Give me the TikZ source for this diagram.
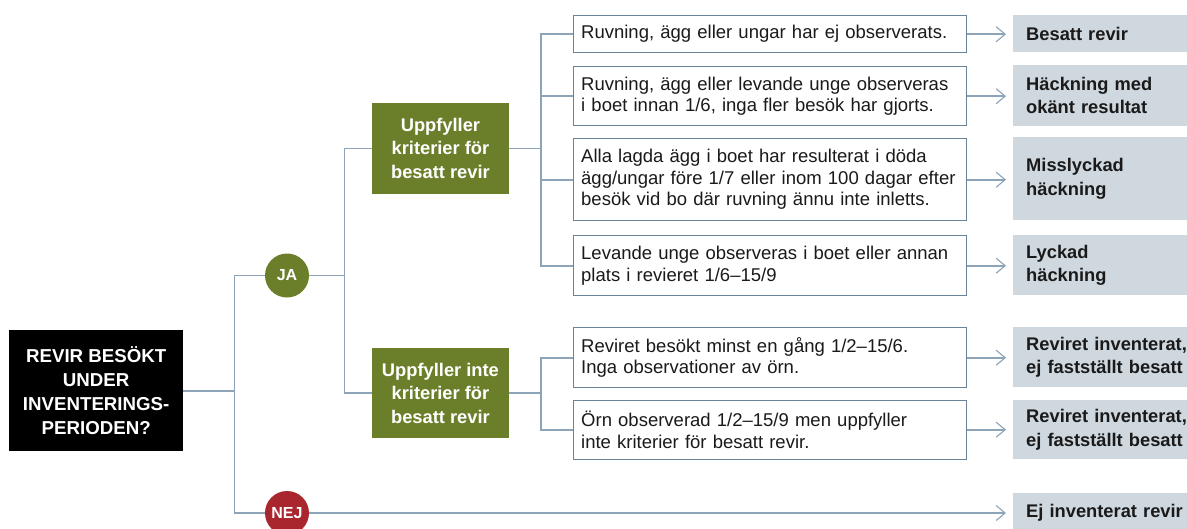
\documentclass[tikz,border=0pt]{standalone}
\usepackage{fontspec}
\setmainfont{Liberation Sans}
\usetikzlibrary{arrows.meta}
\definecolor{linec}{HTML}{8CA3B8}
\definecolor{borderc}{HTML}{6A8399}
\definecolor{olive}{HTML}{6B7F2B}
\definecolor{nejred}{HTML}{A9262E}
\definecolor{grayc}{HTML}{CFD8DF}
\definecolor{txt}{HTML}{1A1A1A}
\tikzset{
  conn/.style={draw=linec, line width=1.6pt},
  arr/.style={conn, -{Straight Barb[length=9pt,width=15pt,line width=1.1pt]}, shorten >=7pt},
  critbox/.style={draw=borderc, line width=1.4pt, fill=white, anchor=north west,
    minimum width=393pt, text width=377pt, inner xsep=8pt, inner ysep=0pt, align=left,
    text=txt, font=\fontsize{18.5}{21.5}\selectfont},
  resbox/.style={fill=grayc, anchor=north west, minimum width=200pt, text width=174pt,
    inner xsep=13pt, inner ysep=0pt, align=left, text=txt,
    font=\bfseries\fontsize{18.3}{23.3}\selectfont},
  greenbox/.style={fill=olive, text=white, anchor=north west, minimum width=136.5pt,
    inner sep=0pt, align=center, font=\bfseries\fontsize{18.3}{23.3}\selectfont},
  answer/.style={circle, minimum size=44pt, inner sep=0pt, text=white,
    font=\bfseries\fontsize{16}{18}\selectfont},
}
\begin{document}
\begin{tikzpicture}[x=1pt,y=-1pt]
\useasboundingbox (0,0) rectangle (1187,528);
\clip (0,0) rectangle (1187,528);
% start node
\node[fill=black, text=white, anchor=north west, minimum width=174pt, minimum height=121pt,
  inner sep=0pt, align=center, font=\bfseries\fontsize{18.7}{24}\selectfont]
  (start) at (9,330) {REVIR BESÖKT\\UNDER\\INVENTERINGS-\\PERIODEN?};
% answers
\node[answer, fill=olive] (ja) at (287,275.5) {JA};
\node[answer, fill=nejred] (nej) at (287,513) {NEJ};
% green boxes
\node[greenbox, minimum height=90.5pt] (gA) at (372,103) {Uppfyller\\kriterier för\\besatt revir};
\node[greenbox, minimum height=90pt] (gB) at (372,348) {Uppfyller inte\\kriterier för\\besatt revir};
% criteria boxes
\node[critbox, minimum height=37pt] (b1) at (572.5,15) {Ruvning, ägg eller ungar har ej observerats.};
\node[critbox, minimum height=59pt] (b2) at (572.5,66) {Ruvning, ägg eller levande unge observeras\\i boet innan 1/6, inga fler besök har gjorts.};
\node[critbox, minimum height=82pt] (b3) at (572.5,138) {Alla lagda ägg i boet har resulterat i döda\\ägg/ungar före 1/7 eller inom 100 dagar efter\\besök vid bo där ruvning ännu inte inletts.};
\node[critbox, minimum height=60pt] (b4) at (572.5,235) {Levande unge observeras i boet eller annan\\plats i revieret 1/6–15/9};
\node[critbox, minimum height=60pt] (b5) at (572.5,327) {Reviret besökt minst en gång 1/2–15/6.\\Inga observationer av örn.};
\node[critbox, minimum height=59pt] (b6) at (572.5,399.5) {Örn observerad 1/2–15/9 men uppfyller\\inte kriterier för besatt revir.};
% result boxes
\node[resbox, minimum height=37pt] (r1) at (1013,15) {Besatt revir};
\node[resbox, minimum height=61pt] (r2) at (1013,65) {Häckning med\\okänt resultat};
\node[resbox, minimum height=83pt] (r3) at (1013,137) {Misslyckad\\häckning};
\node[resbox, minimum height=60pt] (r4) at (1013,235) {Lyckad\\häckning};
\node[resbox, minimum height=60pt] (r5) at (1013,327) {Reviret inventerat,\\ej fastställt besatt};
\node[resbox, minimum height=59pt] (r6) at (1013,400) {Reviret inventerat,\\ej fastställt besatt};
\node[resbox, minimum height=40pt, anchor=west] (r7) at (1013,513) {Ej inventerat revir};
% branch x positions
\coordinate (xt) at (234.5,0);
\coordinate (xa) at (344.5,0);
\coordinate (xb) at (540.7,0);
% connectors
\draw[conn] (start.east) -- (start.east -| xt);
\draw[conn] (ja.west) -| (xt |- nej.west) -- (nej.west);
\draw[conn] (ja.east) -- (ja.east -| xa);
\draw[conn] (gA.west) -| (xa |- gB.west) -- (gB.west);
\draw[conn] (gA.east) -- (gA.east -| xb);
\draw[conn] (b1.west) -| (xb |- b4.west) -- (b4.west);
\draw[conn] (b2.west) -- (b2.west -| xb);
\draw[conn] (b3.west) -- (b3.west -| xb);
\draw[conn] (gB.east) -- (gB.east -| xb);
\draw[conn] (b5.west) -| (xb |- b6.west) -- (b6.west);
% arrows
\draw[arr] (b1.east) -- (b1.east -| r1.west);
\draw[arr] (b2.east) -- (b2.east -| r2.west);
\draw[arr] (b3.east) -- (b3.east -| r3.west);
\draw[arr] (b4.east) -- (b4.east -| r4.west);
\draw[arr] (b5.east) -- (b5.east -| r5.west);
\draw[arr] (b6.east) -- (b6.east -| r6.west);
\draw[arr] (nej.east) -- (r7.west);
\end{tikzpicture}
\end{document}
